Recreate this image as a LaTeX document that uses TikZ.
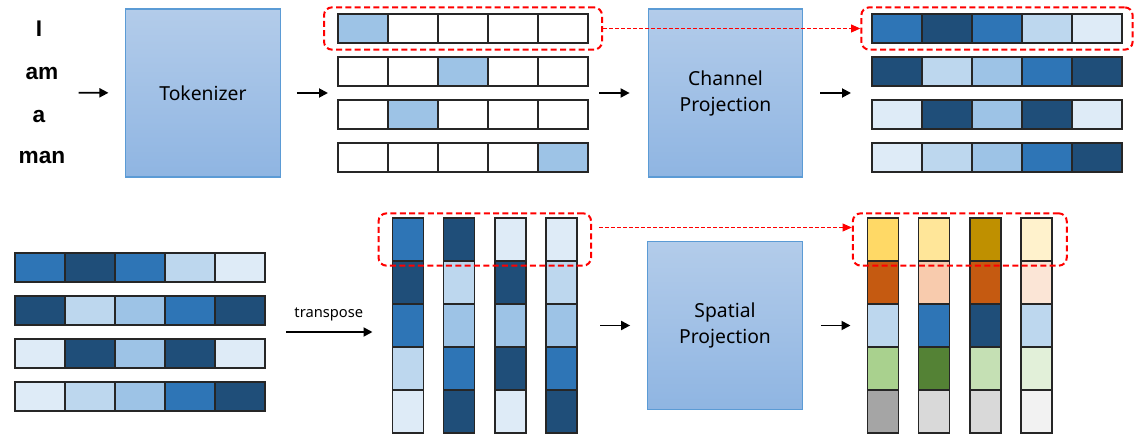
\documentclass[tikz,border=0pt]{standalone}
\usepackage{fontspec}
\setmainfont{Noto Sans}
\newfontfamily\wordfont{Liberation Sans}
\usetikzlibrary{arrows.meta, fit}
\usepackage{xcolor}

% blue shades of the embedding cells
\definecolor{sh1}{HTML}{DEEBF7}
\definecolor{sh2}{HTML}{BDD7EE}
\definecolor{sh3}{HTML}{9DC3E6}
\definecolor{sh4}{HTML}{2E75B6}
\definecolor{sh5}{HTML}{1F4E79}
% colours after spatial projection
\definecolor{gold1}{HTML}{FFD966}
\definecolor{gold2}{HTML}{FFE699}
\definecolor{gold3}{HTML}{BF9000}
\definecolor{gold4}{HTML}{FFF2CC}
\definecolor{org1}{HTML}{C55A11}
\definecolor{org2}{HTML}{F8CBAD}
\definecolor{org4}{HTML}{FBE5D6}
\definecolor{grn1}{HTML}{A9D18E}
\definecolor{grn2}{HTML}{548235}
\definecolor{grn3}{HTML}{C5E0B4}
\definecolor{grn4}{HTML}{E2F0D9}
\definecolor{gry1}{HTML}{A5A5A5}
\definecolor{gry2}{HTML}{D9D9D9}
\definecolor{gry4}{HTML}{F2F2F2}
% projection boxes
\definecolor{boxedge}{HTML}{5B9BD5}
\definecolor{boxtop}{HTML}{B3CCEA}
\definecolor{boxbot}{HTML}{8FB5E2}

\begin{document}
\begin{tikzpicture}[x=0.75pt, y=-0.75pt]
        % ================= styles =================
        \tikzset{
            % blue projection blocks
            proj_box/.style={draw=boxedge, line width=0.8pt, top color=boxtop, bottom color=boxbot,
                minimum width=116pt, minimum height=126pt, align=center, font=\fontsize{14.5}{19.5}\selectfont},
            % horizontal cell (one embedding entry)
            cell_h/.style={draw=black!85, line width=1pt, minimum width=37.5pt, minimum height=21.75pt, inner sep=0pt, outer sep=0pt},
            % vertical cell (after transpose)
            cell_v/.style={draw=black!85, line width=1pt, minimum width=23.25pt, minimum height=32.25pt, inner sep=0pt, outer sep=0pt},
            % input words
            word/.style={font=\wordfont\fontsize{17}{20}\selectfont\bfseries},
            % black flow arrows
            flow_arrow/.style={line width=1.4pt, -{Triangle[length=6.75pt, width=6.75pt]}},
            % red dashed highlight frame
            red_frame/.style={draw=red, line width=1.5pt, dash pattern=on 4.5pt off 2.5pt, rounded corners=6pt, inner xsep=10.5pt},
            % red dashed link between frames
            red_link/.style={draw=red, line width=0.9pt, dash pattern=on 3pt off 1.5pt, -{Triangle[length=7pt, width=6pt]}},
            grid_fit/.style={inner sep=0pt, outer sep=0pt}
        }
        \useasboundingbox (0,0) rectangle (1142,438);

        % ================= top row: tokenizer + channel projection =================
        \node[word] (wrd_1) at (39,29) {I};
        \node[word] (wrd_2) at (42,74) {am};
        \node[word] (wrd_3) at (39,117) {a};
        \node[word] (wrd_4) at (42,158) {man};
        \node[grid_fit, fit=(wrd_1)(wrd_4)] (sentence) {};

        \node[proj_box] (tokenizer) at (203,93) {Tokenizer};

        % one-hot tokens
        \foreach \hot [count=\i] in {1,3,2,5} {
            \foreach \j in {1,...,5} {
                \ifnum\j=\hot
                    \node[cell_h, fill=sh3] (tok_\i_\j) at ({363+50*(\j-1)}, {28.5+43*(\i-1)}) {};
                \else
                    \node[cell_h, fill=white] (tok_\i_\j) at ({363+50*(\j-1)}, {28.5+43*(\i-1)}) {};
                \fi
            }
        }
        \node[grid_fit, fit=(tok_1_1)(tok_4_5)] (tok_grid) {};

        \node[proj_box] (channel) at (725.5,93) {Channel\\Projection};

        % mixed channels
        \foreach \row [count=\i] in {{4,5,4,2,1},{5,2,3,4,5},{1,5,3,5,1},{1,2,3,4,5}} {
            \foreach \c [count=\j] in \row {
                \node[cell_h, fill=sh\c] (out_\i_\j) at ({897+50*(\j-1)}, {28.5+43*(\i-1)}) {};
            }
        }
        \node[grid_fit, fit=(out_1_1)(out_4_5)] (out_grid) {};

        \node[red_frame, inner ysep=5pt, fit=(tok_1_1)(tok_1_5)] (tok_frame) {};
        \node[red_frame, inner ysep=5pt, inner xsep=8pt, fit=(out_1_1)(out_1_5)] (out_frame) {};

        \draw[flow_arrow, shorten <=6.5pt, shorten >=12.5pt] (sentence) -- (tokenizer);
        \draw[flow_arrow, shorten <=12pt, shorten >=7.5pt] (tokenizer) -- (tok_grid);
        \draw[flow_arrow, shorten <=8.25pt, shorten >=13.5pt] (tok_grid) -- (channel);
        \draw[flow_arrow, shorten <=12.75pt, shorten >=15.75pt] (channel) -- (out_grid);
        \draw[red_link] (tok_frame.east) -- (out_frame.west);

        % ================= bottom row: transpose + spatial projection =================
        \foreach \row [count=\i] in {{4,5,4,2,1},{5,2,3,4,5},{1,5,3,5,1},{1,2,3,4,5}} {
            \foreach \c [count=\j] in \row {
                \node[cell_h, fill=sh\c] (mix_\i_\j) at ({40+50*(\j-1)}, {267.5+43*(\i-1)}) {};
            }
        }
        \node[grid_fit, fit=(mix_1_1)(mix_4_5)] (mix_grid) {};

        % transposed columns
        \foreach \row [count=\k] in {{4,5,4,2,1},{5,2,3,4,5},{1,5,3,5,1},{1,2,3,4,5}} {
            \foreach \c [count=\i] in \row {
                \node[cell_v, fill=sh\c] (col_\k_\i) at ({408+51.2*(\k-1)}, {239.5+43*(\i-1)}) {};
            }
        }
        \node[grid_fit, fit=(col_1_1)(col_4_5)] (col_grid) {};

        \node[proj_box] (spatial) at (725,325.5) {Spatial\\Projection};

        % mixed tokens
        \foreach \col [count=\k] in {{gold1,org1,sh2,grn1,gry1},{gold2,org2,sh4,grn2,gry2},{gold3,org1,sh5,grn3,gry2},{gold4,org4,sh2,grn4,gry4}} {
            \foreach \c [count=\i] in \col {
                \node[cell_v, fill=\c] (sp_\k_\i) at ({883+51.2*(\k-1)}, {239.5+43*(\i-1)}) {};
            }
        }
        \node[grid_fit, fit=(sp_1_1)(sp_4_5)] (sp_grid) {};

        \node[red_frame, inner ysep=3.5pt, fit=(col_1_1)(col_4_1)] (col_frame) {};
        \node[red_frame, inner ysep=3.5pt, inner xsep=11pt, fit=(sp_1_1)(sp_4_1)] (sp_frame) {};

        \draw[flow_arrow, shorten <=15.75pt, shorten >=15pt] (mix_grid.east) -- (mix_grid.east -| col_grid.west)
            node[midway, above=4pt, font=\fontsize{11}{13}\selectfont] {transpose};
        \draw[flow_arrow, shorten <=17.25pt, shorten >=12.75pt] (col_grid) -- (spatial);
        \draw[flow_arrow, shorten <=13.5pt, shorten >=12.75pt] (spatial) -- (sp_grid);
        \draw[red_link, shorten <=5pt] ([yshift=9pt]col_frame.east) -- ([yshift=9pt]sp_frame.west);

    \end{tikzpicture}
\end{document}
